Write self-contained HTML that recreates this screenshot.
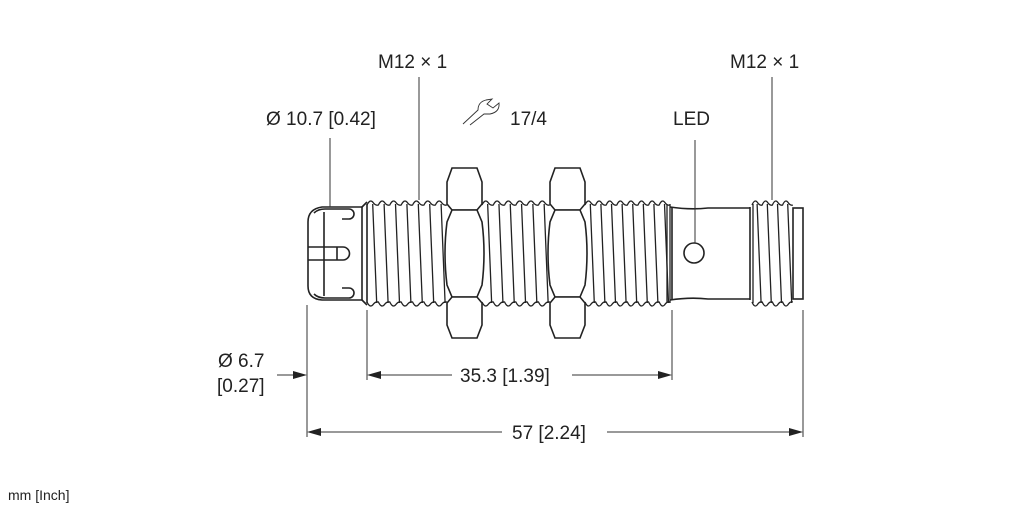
<!DOCTYPE html>
<html><head><meta charset="utf-8"><style>
html,body{margin:0;padding:0;background:#fff;width:1022px;height:511px;overflow:hidden}
text{font-family:"Liberation Sans",sans-serif;fill:#222}
</style></head><body>
<svg id="s" width="1022" height="511" viewBox="0 0 1022 511" xmlns="http://www.w3.org/2000/svg">
<g fill="none" stroke="#222" stroke-width="1.6" id="g">
<path d="M335,207 L322,207 Q308,209 308,222 L308,286 Q308,299 322,300 L362,300 L362,207 Z"/>
<line x1="362" y1="207" x2="367" y2="202"/>
<line x1="362" y1="300" x2="367" y2="305"/>
<line x1="367" y1="204" x2="367" y2="303"/>
<path d="M314,213 Q318,209 325,209 L349,209 A5,5 0 0 1 349,219 L342,219 M314,294 Q318,298 325,298 L349,298 A5,5 0 0 0 349,288 L342,288"/>
<path d="M324,212 L324,296"/>
<path d="M308,247 L335,247 M308,260 L335,260 M335,247 L343,247 A6.5,6.5 0 0 1 343,260 L335,260"/>
<line x1="337" y1="247" x2="337" y2="260"/>
<path d="M670,207 Q690,210 708,208 L750,208 M670,300 Q690,297 708,299 L750,299"/>
<line x1="672" y1="207" x2="672" y2="300"/>
<line x1="750" y1="207" x2="750" y2="300"/>
<circle cx="694" cy="253" r="10"/>
<rect x="793" y="208" width="10" height="91"/>
<g fill="#fff">
<path d="M452,168 L477,168 L482,182 L482,204 L477,210 L452,210 L447,204 L447,182 Z"/>
<path d="M452,210 L477,210 L482,222 Q486,253 482,285 L477,297 L452,297 L447,285 Q443,253 447,222 Z"/>
<path d="M452,297 L477,297 L482,303 L482,325 L477,338 L452,338 L447,325 L447,303 Z"/>
<path d="M555,168 L580,168 L585,182 L585,204 L580,210 L555,210 L550,204 L550,182 Z"/>
<path d="M555,210 L580,210 L585,222 Q589,253 585,285 L580,297 L555,297 L550,285 Q546,253 550,222 Z"/>
<path d="M555,297 L580,297 L585,303 L585,325 L580,338 L555,338 L550,325 L550,303 Z"/>
</g>
</g>
<g stroke="#333" stroke-width="1" fill="none">
<line x1="330" y1="138" x2="330" y2="207"/>
<line x1="419" y1="77" x2="419" y2="200"/>
<line x1="772" y1="77" x2="772" y2="200"/>
<line x1="695" y1="140" x2="695" y2="243"/>
<line x1="307" y1="305" x2="307" y2="437"/>
<line x1="367" y1="310" x2="367" y2="380"/>
<line x1="672" y1="310" x2="672" y2="380"/>
<line x1="803" y1="310" x2="803" y2="437"/>
<line x1="277" y1="375" x2="305" y2="375"/>
<line x1="369" y1="375" x2="452" y2="375"/>
<line x1="572" y1="375" x2="670" y2="375"/>
<line x1="309" y1="432" x2="502" y2="432"/>
<line x1="607" y1="432" x2="801" y2="432"/>
<path d="M463,124 L478,110 Q478,102 486,100 L492,99 L487,104 L493,108 L499,103 Q500,112 490,114 L484,114 L470,125" stroke-width="0.9"/>
</g>
<g fill="#222">
<path d="M307,375 L293,371 L293,379 Z"/>
<path d="M367,375 L381,371 L381,379 Z"/>
<path d="M672,375 L658,371 L658,379 Z"/>
<path d="M307,432 L321,428 L321,436 Z"/>
<path d="M803,432 L789,428 L789,436 Z"/>
</g>
<text x="378" y="68" font-size="19">M12 × 1</text>
<text x="730" y="68" font-size="19">M12 × 1</text>
<text x="266" y="125" font-size="19">Ø 10.7 [0.42]</text>
<text x="510" y="125" font-size="19">17/4</text>
<text x="673" y="125" font-size="19">LED</text>
<text x="218" y="367" font-size="19">Ø 6.7</text>
<text x="217" y="392" font-size="19">[0.27]</text>
<text x="460" y="382" font-size="19">35.3 [1.39]</text>
<text x="512" y="439" font-size="19">57 [2.24]</text>
<text x="8" y="500" font-size="14">mm [Inch]</text>
</svg>
<script>
(function(){
var g=document.getElementById('g');var NS='http://www.w3.org/2000/svg';
var first=g.querySelector('g');
function thread(x0,x1,yt,yb,p){
 var d='M'+x0+','+(yt+3);var x=x0;
 while(x+p<=x1+0.1){d+=' Q'+(x+p/4)+','+(yt-3)+' '+(x+p/2)+','+(yt)+' Q'+(x+3*p/4)+','+(yt+4)+' '+(x+p)+','+(yt+3);x+=p;}
 d+=' M'+x0+','+(yb-3);x=x0;
 while(x+p<=x1+0.1){d+=' Q'+(x+p/4)+','+(yb+3)+' '+(x+p/2)+','+(yb)+' Q'+(x+3*p/4)+','+(yb-4)+' '+(x+p)+','+(yb-3);x+=p;}
 x=x0;
 while(x+p<=x1+0.1){d+=' M'+(x+p/2)+','+(yt+2)+' L'+(x+p/2+4)+','+(yb-2);x+=p;}
 var e=document.createElementNS(NS,'path');e.setAttribute('d',d);e.setAttribute('stroke-width','1.3');g.insertBefore(e,first);
}
thread(367,447,202,305,11.4);
thread(482,550,202,305,11.3);
thread(585,670,202,305,10.6);
thread(752,793,202,305,10.2);
var l=document.createElementNS(NS,'path');
l.setAttribute('d','M667,204 L667,303 M670,204 L670,303 M753,204 L753,303');l.setAttribute('stroke-width','1.3');g.appendChild(l);
})();
</script>
</body></html>
